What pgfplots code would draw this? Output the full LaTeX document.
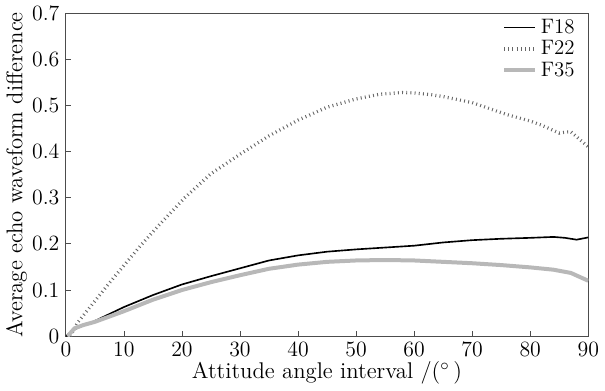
\documentclass[border=0pt]{standalone}
\usepackage{pgfplots}
\pgfplotsset{compat=1.18}
\begin{document}
\begin{tikzpicture}
\begin{axis}[
  scale only axis,
  width=287.5pt, height=177.8pt,
  xmin=0, xmax=90, ymin=0, ymax=0.7,
  xtick={0,10,...,90},
  ytick={0,0.1,...,0.7},
  yticklabel style={/pgf/number format/fixed},
  tick label style={font=\fontsize{12.5}{14}\selectfont},
  label style={font=\fontsize{12.5}{14}\selectfont},
  tick align=inside, tick pos=left,
  major tick length=2.7pt,
  axis line style={black!70},
  every tick/.style={black!70},
  xlabel={Attitude angle interval /($^\circ$\,)},
  ylabel={Average echo waveform difference},
  xlabel style={yshift=4pt},
  ylabel style={yshift=-4pt},
  legend style={draw=none, fill=none, at={(0.985,1.0)}, anchor=north east,
    row sep=-1.5pt, inner sep=1pt, font=\fontsize{11.5}{12}\selectfont},
  legend cell align=left,
]
\addplot[black, line width=0.9pt] coordinates {
(0,0) (1,0.01) (2,0.018) (5,0.033) (10,0.063) (15,0.089) (20,0.112) (25,0.13)
(30,0.147) (35,0.164) (40,0.175) (45,0.183) (50,0.188) (55,0.192) (60,0.196)
(65,0.203) (70,0.208) (75,0.211) (80,0.213) (84,0.215) (86,0.213) (88,0.209) (90,0.214)
};
\addlegendentry{F18}
\addplot[black!60, line width=1.8pt, dash pattern=on 0.5pt off 1.8pt] coordinates {
(0.8,0) (2,0.029) (5,0.076) (8,0.123) (10,0.153) (13,0.198) (16,0.24) (20.5,0.300)
(25,0.352) (30,0.394) (35,0.434) (40,0.468) (45,0.496) (50,0.514) (54,0.524)
(58,0.528) (60,0.527) (63,0.523) (65,0.519) (70,0.506) (76,0.480) (80,0.466)
(82,0.457) (85,0.440) (86,0.442) (87,0.443) (88,0.432) (90,0.410)
};
\addlegendentry{F22}
\addplot[black!28, line width=2.2pt] coordinates {
(0.3,0) (1.5,0.017) (3,0.024) (5,0.031) (10,0.054) (15,0.079) (20,0.100) (25,0.117)
(30,0.132) (35,0.146) (40,0.155) (45,0.161) (50,0.164) (55,0.165) (60,0.164)
(65,0.161) (70,0.158) (75,0.154) (80,0.149) (84,0.144) (87,0.137) (90,0.12)
};
\addlegendentry{F35}
\end{axis}
\end{tikzpicture}
\end{document}
